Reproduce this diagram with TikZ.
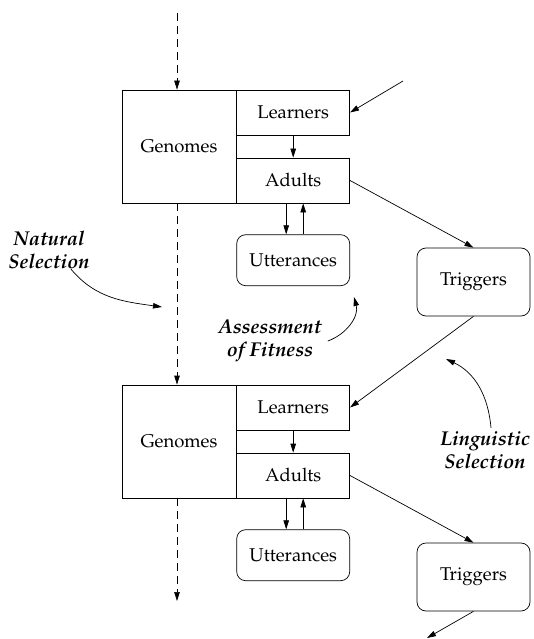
\documentclass[tikz,border=0pt]{standalone}
\usepackage[T1]{fontenc}
\usepackage{mathpazo}
\usetikzlibrary{positioning, arrows.meta}

\begin{document}
\begin{tikzpicture}[
    x=1pt, y=-1pt,
    box/.style={rectangle, draw, line width=0.7pt, minimum width=113pt,
                minimum height=45pt, inner sep=0pt,
                font=\fontsize{18.5}{21}\selectfont},
    gbox/.style={box, minimum width=114pt, minimum height=113pt},
    rbox/.style={box, rounded corners=9pt},
    arrow/.style={-{Triangle[length=9pt,width=5.5pt]}, line width=0.7pt},
    dasharrow/.style={arrow, dash pattern=on 8pt off 5pt},
    label/.style={font=\fontsize{20}{23.5}\selectfont\bfseries\itshape,
                  align=center, inner sep=0pt}
  ]
    \useasboundingbox (0,0) rectangle (533,639);

    % first generation
    \node[gbox] (g1) at (179,146.5) {Genomes};
    \node[box, anchor=north west] (l1) at (g1.north east) {Learners};
    \node[box, anchor=south west] (a1) at (g1.south east) {Adults};
    \node[rbox, minimum height=51pt, below=31pt of a1] (u1) {Utterances};
    \node[rbox, minimum height=68pt] (t1) at (473.5,282) {Triggers};

    % second generation
    \node[gbox] (g2) at (179,441.5) {Genomes};
    \node[box, anchor=north west] (l2) at (g2.north east) {Learners};
    \node[box, anchor=south west] (a2) at (g2.south east) {Adults};
    \node[rbox, minimum height=51pt, below=31pt of a2] (u2) {Utterances};
    \node[rbox, minimum height=68pt] (t2) at (473.5,577) {Triggers};

    % labels
    \node[label] (ns) at (49,250) {Natural\\Selection};
    \node[label] (af) at (270,341) {Assessment\\of Fitness};
    \node[label] (ls) at (485,450) {Linguistic\\Selection};

    \coordinate (top) at (177,13);
    \coordinate (bot) at (177,601);
    \coordinate (in) at (403,81);
    \coordinate (out) at (427,638);
    \coordinate (nsend) at (162,307);
    \coordinate (afend) at (354,297);
    \coordinate (lsend) at (446,359);

    % genome line
    \draw[dasharrow] (top) -- (top |- g1.north);
    \draw[dasharrow] (g1.south -| top) -- (g2.north -| top);
    \draw[dasharrow] (g2.south -| top) -- (bot);

    % language cycle
    \draw[arrow] (in) -- (l1.east);
    \draw[arrow] (l1.south) -- (a1.north);
    \draw[arrow] ([xshift=-7pt]a1.south) -- ([xshift=-7pt]u1.north);
    \draw[arrow] ([xshift=10pt]u1.north) -- ([xshift=10pt]a1.south);
    \draw[arrow] (a1.east) -- (t1.north);
    \draw[arrow] (t1.south) -- (l2.east);
    \draw[arrow] (l2.south) -- (a2.north);
    \draw[arrow] ([xshift=-7pt]a2.south) -- ([xshift=-7pt]u2.north);
    \draw[arrow] ([xshift=10pt]u2.north) -- ([xshift=10pt]a2.south);
    \draw[arrow] (a2.east) -- (t2.north);
    \draw[arrow] (t2.south) -- (out);

    % selection pointers
    \draw[arrow] ([xshift=22pt]ns.south) to[out=-50, in=172] (nsend);
    \draw[arrow] ([xshift=6pt]af.east) to[out=20, in=-75] (afend);
    \draw[arrow] ([xshift=6pt, yshift=3pt]ls.north) to[out=95, in=-25] (lsend);
\end{tikzpicture}
\end{document}
